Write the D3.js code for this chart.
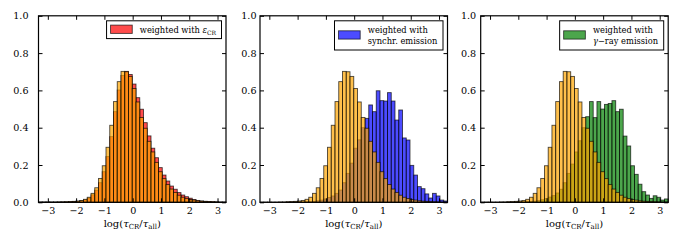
<!DOCTYPE html>
<html>
<head>
<meta charset="utf-8">
<script src="https://cdn.jsdelivr.net/npm/d3@7"></script>
<style>
  body { margin: 0; background: #fff; }
  svg text { font-family: "DejaVu Serif", serif; fill: #000; }
</style>
</head>
<body>
<div id="chart"></div>
<script>
let width  = 688,
    height = 244;

// 50 histogram bins over the range of log(tau_CR / tau_all)
let binMin = -3.33,
    binMax = 3.30,
    binCount = 50;

// unweighted distribution (orange, drawn in every panel)
let allCells = [
  0.001, 0.001, 0.001, 0.001, 0.001, 0.002, 0.002, 0.003, 0.004, 0.005,
  0.007, 0.010, 0.016, 0.027, 0.048, 0.078, 0.128, 0.196, 0.295, 0.413,
  0.540, 0.647, 0.702, 0.700, 0.675, 0.610, 0.538, 0.455, 0.397, 0.327,
  0.270, 0.214, 0.164, 0.127, 0.095, 0.071, 0.053, 0.038, 0.027, 0.020,
  0.015, 0.012, 0.008, 0.006, 0.005, 0.004, 0.003, 0.002, 0.001, 0.001
];

// weighted with eps_CR
let crWeighted = [
  0.001, 0.001, 0.001, 0.001, 0.001, 0.001, 0.002, 0.002, 0.003, 0.004,
  0.005, 0.008, 0.013, 0.022, 0.040, 0.065, 0.105, 0.164, 0.245, 0.352,
  0.486, 0.602, 0.680, 0.702, 0.685, 0.634, 0.561, 0.499, 0.427, 0.356,
  0.290, 0.239, 0.186, 0.146, 0.114, 0.087, 0.070, 0.052, 0.039, 0.030,
  0.022, 0.015, 0.010, 0.007, 0.005, 0.004, 0.003, 0.002, 0.001, 0.001
];

// weighted with synchrotron emission
let synchWeighted = [
  0.000, 0.000, 0.000, 0.000, 0.000, 0.000, 0.000, 0.001, 0.001, 0.001,
  0.001, 0.001, 0.002, 0.003, 0.005, 0.008, 0.012, 0.018, 0.026, 0.034,
  0.048, 0.066, 0.105, 0.155, 0.210, 0.290, 0.335, 0.400, 0.450, 0.522,
  0.486, 0.598, 0.545, 0.543, 0.588, 0.543, 0.441, 0.495, 0.345, 0.334,
  0.198, 0.146, 0.084, 0.073, 0.045, 0.023, 0.048, 0.034, 0.012, 0.007
];

// weighted with gamma-ray emission
let gammaWeighted = [
  0.000, 0.000, 0.000, 0.000, 0.000, 0.000, 0.000, 0.001, 0.001, 0.001,
  0.001, 0.002, 0.003, 0.004, 0.006, 0.009, 0.014, 0.020, 0.028, 0.036,
  0.050, 0.070, 0.105, 0.155, 0.205, 0.270, 0.330, 0.400, 0.459, 0.540,
  0.454, 0.540, 0.500, 0.525, 0.530, 0.545, 0.486, 0.499, 0.355, 0.302,
  0.196, 0.150, 0.097, 0.057, 0.039, 0.021, 0.035, 0.027, 0.012, 0.018
];

let xTicks = [-3, -2, -1, 0, 1, 2, 3];
let yTicks = [0, 0.2, 0.4, 0.6, 0.8, 1.0];

let panels = [
  { values: crWeighted,    color: "#ff0000", left: 38.5,  labelPad: 10,
    legend: [[{t: "weighted with "}, {t: "ε", i: true}, {t: "CR", sub: true}]] },
  { values: synchWeighted, color: "#0000ff", left: 260,   labelPad: 3.5,
    legend: [[{t: "weighted with"}], [{t: "synchr. emission"}]] },
  { values: gammaWeighted, color: "#008000", left: 480.7, labelPad: 4.5,
    legend: [[{t: "weighted with"}], [{t: "γ", i: true}, {t: "−ray emission"}]] }
];

let plotTop = 15.8,
    pw  = 187.5,
    ph  = 186.5;

let edges = d3.range(binCount + 1).map(function(i) {
  return binMin + i * (binMax - binMin) / binCount;
});

let x = d3.scaleLinear().domain([binMin, binMax]).range([0, pw]);
let y = d3.scaleLinear().domain([0, 1]).range([ph, 0]);

let fmtX = function(d) { return d < 0 ? "−" + Math.abs(d) : String(d); };
let fmtY = d3.format(".1f");

let svg =
  d3.select("#chart")
    .append("svg")
      .attr("width", width)
      .attr("height", height);

panels.forEach(function(p) {
  let g = svg.append("g").attr("transform", translate(p.left, plotTop));

  drawBars(g, p.values, p.color);
  drawBars(g, allCells, "#ffa500");

  let axes = [
    { ax: d3.axisBottom(x).tickValues(xTicks).tickFormat(fmtX).tickPadding(4.5), at: [0, ph] },
    { ax: d3.axisTop(x).tickValues(xTicks).tickFormat(""), at: [0, 0] },
    { ax: d3.axisLeft(y).tickValues(yTicks).tickFormat(fmtY).tickPadding(p.labelPad), at: [0, 0] },
    { ax: d3.axisRight(y).tickValues(yTicks).tickFormat(""), at: [pw, 0] }
  ];
  axes.forEach(function(a) {
    let ag = g.append("g")
      .attr("transform", translate(a.at[0], a.at[1]))
      .call(a.ax.tickSize(-4).tickSizeOuter(0));
    ag.attr("font-family", null).attr("font-size", 9.6);
    ag.select(".domain").remove();
    ag.selectAll("line").attr("stroke", "#000").attr("stroke-width", 1);
  });

  g.append("rect")
    .attr("width", pw)
    .attr("height", ph)
    .attr("fill", "none")
    .attr("stroke", "#000")
    .attr("stroke-width", 1.2);

  // x axis label
  let xl = g.append("text")
    .attr("x", pw / 2)
    .attr("y", ph + 24.5)
    .attr("text-anchor", "middle")
    .attr("font-size", 10);
  xl.append("tspan").text("log(");
  xl.append("tspan").attr("font-style", "italic").text("τ");
  xl.append("tspan").attr("font-size", 7).attr("dy", 2.5).text("CR");
  xl.append("tspan").attr("dy", -2.5).text("/");
  xl.append("tspan").attr("font-style", "italic").text("τ");
  xl.append("tspan").attr("font-size", 7).attr("dy", 2.5).text("all");
  xl.append("tspan").attr("dy", -2.5).text(")");

  drawLegend(g, p);
});

function drawBars(g, values, color) {
  g.append("g")
    .selectAll("rect")
    .data(values)
    .enter()
    .append("rect")
      .attr("x", function(d, i) { return x(edges[i]); })
      .attr("width", function(d, i) { return x(edges[i + 1]) - x(edges[i]); })
      .attr("y", function(d) { return y(d); })
      .attr("height", function(d) { return y(0) - y(d); })
      .attr("fill", color)
      .attr("fill-opacity", 0.7)
      .attr("stroke", "#000")
      .attr("stroke-opacity", 0.7)
      .attr("stroke-width", 0.9);
}

function drawLegend(g, p) {
  let lineH = 11.4, padV = 3.2, n = p.legend.length;
  let boxH = 2 * padV + n * lineH;
  let lg = g.append("g");
  let box = lg.append("rect")
    .attr("fill", "#fff")
    .attr("stroke", "#000")
    .attr("stroke-width", 1)
    .attr("height", boxH);
  lg.append("rect")
    .attr("x", 4)
    .attr("y", boxH / 2 - 4.6)
    .attr("width", 21.7)
    .attr("height", 8.3)
    .attr("fill", p.color)
    .attr("fill-opacity", 0.7)
    .attr("stroke", "#000")
    .attr("stroke-opacity", 0.7)
    .attr("stroke-width", 0.9);

  let textX = 4 + 21.7 + 7.6;
  let texts = lg.append("g");
  p.legend.forEach(function(line, i) {
    let t = texts.append("text")
      .attr("x", textX)
      .attr("y", padV + lineH * (i + 0.5) + 3)
      .attr("font-size", 8.3);
    line.forEach(function(s) {
      let ts = t.append("tspan").text(s.t);
      if (s.i) ts.attr("font-style", "italic");
      if (s.sub) ts.attr("font-size", 6).attr("dy", 2);
    });
  });
  let tw = texts.node().getBBox().width;
  let boxW = textX + tw + 5;
  box.attr("width", boxW);
  lg.attr("transform", translate(pw - 4.5 - boxW, 5));
}

function translate(x, y=0) {
  return "translate({x}, {y})"
          .replace("{x}", x)
          .replace("{y}", y);
}
</script>
</body>
</html>
